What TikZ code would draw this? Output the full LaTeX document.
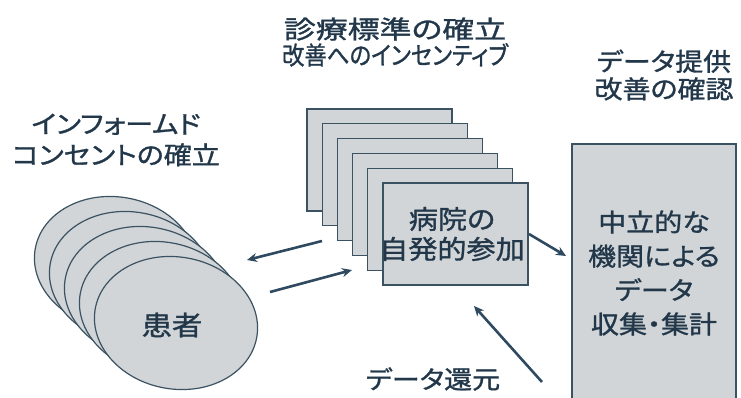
\documentclass[tikz,border=0pt]{standalone}
\usepackage{fontspec}
\newfontfamily\jp[FakeStretch=1.12,FakeBold=1.2,RawFeature=+palt]{Noto Sans CJK JP}
\usetikzlibrary{arrows.meta}
\definecolor{fillg}{HTML}{D2D5D7}
\definecolor{edge}{HTML}{3B5262}
\definecolor{ink}{HTML}{22384A}
\definecolor{arr}{HTML}{2F4A60}
\begin{document}
\begin{tikzpicture}[x=1pt,y=-1pt,
  shp/.style={fill=fillg, draw=edge, line width=1.2pt},
  lbl/.style={text=ink, font=\jp\fontsize{25}{31}\selectfont, align=center, inner sep=0pt},
  arrow/.style={draw=arr, line width=2.6pt, -{Stealth[length=10pt,width=9pt]}}]
\fill[white] (0,0) rectangle (741,397);
\useasboundingbox (0,0) rectangle (741,397);
% patient ellipses
\foreach \i in {0,...,4} {
  \draw[shp, rotate around={-10:(116+15*\i,263+15*\i)}] (116+15*\i,263+15*\i) ellipse [x radius=82, y radius=66];
}
% hospital rectangles
\foreach \i in {0,...,5} {
  \draw[shp] (307+15.2*\i,109+14.8*\i) rectangle ++(145,102);
}
% institution box
\draw[shp] (572,144) rectangle (736,400);
% labels
\node[lbl] (ic) at (116,140) {インフォームド\\コンセントの確立};
\node[lbl, font=\jp\fontsize{27}{31}\selectfont] (patient) at (172,325) {患者};
\node[lbl, font=\jp\fontsize{26}{30}\selectfont] (hosp) at (452,234) {病院の\\自発的参加};
\node[lbl, font=\jp\fontsize{25}{26}\selectfont] (std) at (395,42) {\scalebox{1.14}[1]{診療標準の確立}\\\scalebox{0.8}[1]{改善へのインセンティブ}};
\node[lbl, font=\jp\fontsize{25}{27.5}\selectfont] (prov) at (664,75) {データ提供\\改善の確認};
\node[lbl, font=\jp\fontsize{25}{34}\selectfont] (inst) at (654,273) {中立的な\\機関による\\データ\\収集・集計};
\node[lbl] (ret) at (433,379) {データ還元};
% arrows
\coordinate (a1s) at (322,241); \coordinate (a1e) at (247,260);
\coordinate (a2s) at (270,292); \coordinate (a2e) at (352,270);
\coordinate (a3s) at (529,234); \coordinate (a3e) at (566,256);
\coordinate (a4s) at (542,382); \coordinate (a4e) at (474,306);
\draw[arrow] (a1s) -- (a1e);
\draw[arrow] (a2s) -- (a2e);
\draw[arrow] (a3s) -- (a3e);
\draw[arrow] (a4s) -- (a4e);
\end{tikzpicture}
\end{document}
